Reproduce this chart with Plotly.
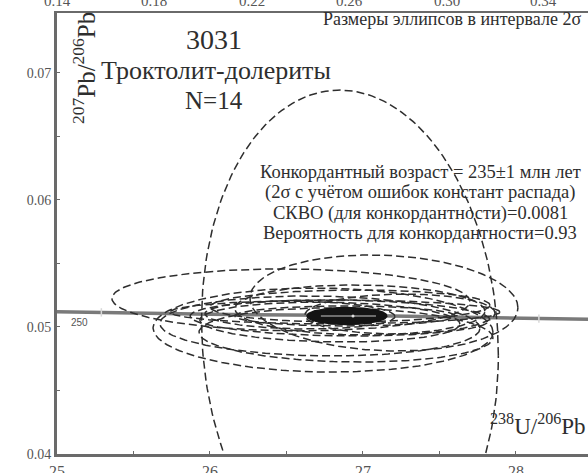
import numpy as np
import plotly.graph_objects as go

# Tera-Wasserburg axes
x_ticks = [25, 26, 27, 28]
y_ticks = [0.04, 0.05, 0.06, 0.07]
y_ticklabels = ["0.04", "0.05", "0.06", "0.07"]
top_ticks = [0.14, 0.18, 0.22, 0.26, 0.30, 0.34]
top_ticklabels = ["0.14", "0.18", "0.22", "0.26", "0.30", "0.34"]

# Concordia curve (238U/206Pb, 207Pb/206Pb)
concordia_x = [25.0, 26.0, 27.0, 28.0, 28.5]
concordia_y = [0.0512, 0.0510, 0.0509, 0.0507, 0.0506]
age_marks = [250, 225]
age_mark_x = [25.29, 28.15]
age_mark_y = [0.05115, 0.05066]

# Analyses: centre, 2-sigma half-widths and error correlation
ell_cx = [26.915, 26.529, 27.137, 26.739, 26.889, 26.817, 26.850,
          26.915, 26.784, 26.980, 26.882, 26.588, 27.242, 26.719]
ell_cy = [0.04915, 0.05213, 0.05189, 0.04976, 0.04937, 0.05118, 0.05071,
          0.05165, 0.05039, 0.05134, 0.05087, 0.05094, 0.05102, 0.05008]
ell_sx = [0.970, 1.170, 0.876, 1.111, 0.961, 1.078, 0.980,
          0.915, 0.850, 0.817, 0.719, 0.621, 0.621, 1.046]
ell_sy = [0.01950, 0.00244, 0.00378, 0.00331, 0.00213, 0.00094, 0.00142,
          0.00126, 0.00157, 0.00197, 0.00079, 0.00110, 0.00157, 0.00236]
ell_rho = [-0.07, -0.05, -0.10, -0.05, -0.10, 0.0, -0.10,
           0.05, -0.10, -0.05, 0.0, -0.10, 0.05, -0.08]

# Concordia age ellipse
age_cx, age_cy, age_sx, age_sy = 26.895, 0.05087, 0.261, 0.00067

def ellipse(cx, cy, sx, sy, rho, n=240):
    t = np.linspace(0, 2 * np.pi, n)
    x = cx + sx * np.cos(t)
    y = cy + sy * (rho * np.cos(t) + np.sqrt(1 - rho ** 2) * np.sin(t))
    return x, y

SERIF = "Liberation Serif, Times New Roman, serif"
AXIS_GREY = "#6a6a6a"
TICK_FONT = "#555"

fig = go.Figure()

fig.add_trace(go.Scatter(x=concordia_x, y=concordia_y, mode="lines",
                         line=dict(color="#7a7a7a", width=3.5),
                         hoverinfo="skip", showlegend=False))
fig.add_trace(go.Scatter(x=age_mark_x, y=age_mark_y, mode="markers",
                         marker=dict(symbol="line-ns", size=6,
                                     line=dict(color="#d8d8d8", width=1.5)),
                         text=[str(a) for a in age_marks],
                         hoverinfo="text", showlegend=False))

for cx, cy, sx, sy, r in zip(ell_cx, ell_cy, ell_sx, ell_sy, ell_rho):
    ex, ey = ellipse(cx, cy, sx, sy, r)
    fig.add_trace(go.Scatter(x=ex, y=ey, mode="lines",
                             line=dict(color="#2e2e2e", width=1.5, dash="8px,4px"),
                             hoverinfo="skip", showlegend=False))

ax_, ay_ = ellipse(age_cx, age_cy, age_sx, age_sy, 0.0)
fig.add_trace(go.Scatter(x=ax_, y=ay_, mode="lines", fill="toself",
                         fillcolor="#141414", line=dict(color="#141414", width=1.5),
                         hoverinfo="skip", showlegend=False))
fig.add_trace(go.Scatter(x=[age_cx - 0.17, age_cx + 0.19], y=[age_cy, age_cy],
                         mode="lines", line=dict(color="#8c8c8c", width=1.5),
                         hoverinfo="skip", showlegend=False))
fig.add_trace(go.Scatter(x=[age_cx + 0.04], y=[age_cy], mode="markers",
                         marker=dict(color="#e0e0e0", size=3),
                         hoverinfo="skip", showlegend=False))

# carrier for the top (207Pb/235U) axis
fig.add_trace(go.Scatter(x=[top_ticks[0]], y=[y_ticks[0]], xaxis="x2",
                         mode="markers", marker=dict(opacity=0),
                         hoverinfo="skip", showlegend=False))

annotations = [
    dict(text="3031", x=(214 - 57) / 531, y=(454 - 40) / 441, font=dict(size=28)),
    dict(text="Троктолит-долериты", x=(216 - 57) / 531, y=(454 - 71) / 441,
         font=dict(size=26)),
    dict(text="N=14", x=(214 - 57) / 531, y=(454 - 100) / 441, font=dict(size=25)),
    dict(text="Размеры эллипсов в интервале 2σ", x=(452 - 57) / 531,
         y=(454 - 19) / 441, font=dict(size=18)),
    dict(text="Конкордантный возраст = 235±1 млн лет", x=(420 - 57) / 531,
         y=(454 - 172) / 441, font=dict(size=18.5)),
    dict(text="(2σ с учётом ошибок констант распада)", x=(420 - 57) / 531,
         y=(454 - 192) / 441, font=dict(size=18.5)),
    dict(text="СКВО (для конкордантности)=0.0081", x=(420 - 57) / 531,
         y=(454 - 213) / 441, font=dict(size=18.5)),
    dict(text="Вероятность для конкордантности=0.93", x=(420 - 57) / 531,
         y=(454 - 233) / 441, font=dict(size=18.5)),
    dict(text="<sup>207</sup>Pb/<sup>206</sup>Pb", x=(84 - 57) / 531,
         y=(454 - 68) / 441, textangle=-90, font=dict(size=25)),
    dict(text="<sup>238</sup>U/<sup>206</sup>Pb", x=(538 - 57) / 531,
         y=(454 - 424) / 441, font=dict(size=23)),
]
for a in annotations:
    a.update(xref="paper", yref="paper", showarrow=False,
             xanchor="center", yanchor="middle")
    a["font"].update(family=SERIF, color="#2e2e2e")

annotations.append(dict(text="250", x=25.15, y=0.05039, xref="x", yref="y",
                        showarrow=False, xanchor="center", yanchor="middle",
                        font=dict(family="Liberation Sans, Arial, sans-serif",
                                  size=10, color="#555")))

# top-axis labels sit at the very top edge of the figure
for v, lab in zip(top_ticks, top_ticklabels):
    annotations.append(dict(text=lab, x=v, xref="x2", y=1 + 12 / 441, yref="paper",
                            showarrow=False, xanchor="center", yanchor="middle",
                            font=dict(family=SERIF, size=15, color=TICK_FONT)))

fig.update_layout(
    width=588, height=473,
    margin=dict(l=57, r=0, t=13, b=19),
    paper_bgcolor="white", plot_bgcolor="white",
    annotations=annotations,
    xaxis=dict(range=[25, 28.471], tickvals=x_ticks, ticks="inside", ticklen=3,
               tickcolor=AXIS_GREY, showline=True, linecolor=AXIS_GREY,
               linewidth=3, showgrid=False, zeroline=False, automargin=False,
               ticklabelstandoff=1,
               minor=dict(dtick=0.5, ticks="inside", ticklen=3, tickcolor=AXIS_GREY),
               tickfont=dict(family=SERIF, size=16, color=TICK_FONT)),
    xaxis2=dict(range=[0.14, 0.3581], overlaying="x", side="top", anchor="y",
                tickvals=top_ticks, showticklabels=False, ticks="",
                showline=True, linecolor=AXIS_GREY, linewidth=2,
                showgrid=False, zeroline=False, automargin=False),
    yaxis=dict(range=[0.04, 0.07472], tickvals=y_ticks, ticktext=y_ticklabels,
               ticks="inside", ticklen=3, tickcolor=AXIS_GREY,
               showline=True, linecolor=AXIS_GREY, linewidth=3,
               showgrid=False, zeroline=False, automargin=False,
               minor=dict(dtick=0.005, ticks="inside", ticklen=3, tickcolor=AXIS_GREY),
               tickfont=dict(family=SERIF, size=14, color=TICK_FONT)),
)

fig.write_html("out.html")
